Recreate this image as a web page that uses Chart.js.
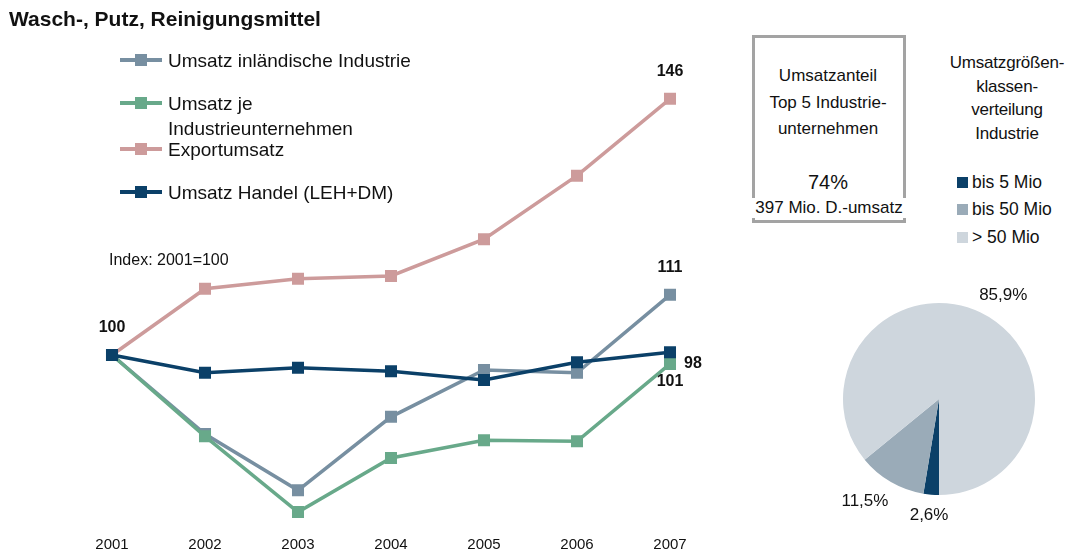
<!DOCTYPE html>
<html>
<head>
<meta charset="utf-8">
<script src="https://cdn.jsdelivr.net/npm/chart.js@4.4.1/dist/chart.umd.min.js"></script>
<style>
  body { margin: 0; width: 1068px; height: 554px; overflow: hidden; background: #fff;
         font-family: "Liberation Sans", Arial, sans-serif; color: #111; position: relative; }
  .abs { position: absolute; }
  #title { left: 9px; top: 7px; font-size: 21px; font-weight: bold; }
  .lg { position: absolute; left: 120px; font-size: 19px; line-height: 25px; }
  .lg .mk { position: absolute; left: 0; top: 10px; width: 42px; height: 4px; }
  .lg .mk i { position: absolute; left: 15px; top: -4px; width: 12px; height: 12px; }
  .lg span { position: absolute; left: 48px; top: 0; width: 250px; }
  #index { left: 109px; top: 251px; font-size: 16px; }
  #box { left: 752px; top: 35px; width: 148px; height: 182px; border: 3px solid #a3a3a3; }
  .bt { position: absolute; width: 160px; left: 748px; text-align: center; font-size: 17px; }
  #pieTitle { left: 945px; top: 51px; width: 124px; text-align: center; font-size: 17px; line-height: 23.5px; letter-spacing: -0.2px; }
  .pl { position: absolute; left: 957px; font-size: 17.5px; }
  .pl i { display: inline-block; width: 11px; height: 11px; margin-right: 4px; vertical-align: 0px; }
</style>
</head>
<body>
<canvas id="lineChart" class="abs" width="720" height="554" style="left:0;top:0"></canvas>
<canvas id="pieChart" class="abs" width="239" height="285" style="left:829px;top:269px"></canvas>

<div id="title" class="abs">Wasch-, Putz, Reinigungsmittel</div>
<div id="legend"></div>
<div id="index" class="abs">Index: 2001=100</div>

<div id="box" class="abs"></div>
<div class="bt" style="top:66px">Umsatzanteil</div>
<div class="bt" style="top:93px">Top 5 Industrie-</div>
<div class="bt" style="top:119px">unternehmen</div>
<div class="bt" style="top:171px;font-size:20px">74%</div>
<div class="bt" style="top:198px;left:750px;width:158px;background:#fff">397 Mio. D.-umsatz</div>

<div id="pieTitle" class="abs">Umsatzgrößen-<br>klassen-<br>verteilung<br>Industrie</div>
<div id="pieLegend"></div>

<script>
// Index values, 2001 = 100
const years = ['2001', '2002', '2003', '2004', '2005', '2006', '2007'];
const inlandIndustrie = [100, 85.8, 75.7, 88.9, 97.3, 96.8, 110.8];
const jeUnternehmen   = [100, 85.4, 71.8, 81.5, 84.7, 84.5, 98.4];
const exportUmsatz    = [100, 111.9, 113.7, 114.2, 120.8, 132.2, 146];
const handel          = [100, 96.8, 97.7, 97.1, 95.5, 98.7, 100.5];

const seriesNames  = ['Umsatz inländische Industrie', 'Umsatz je Industrieunternehmen', 'Exportumsatz', 'Umsatz Handel (LEH+DM)'];
const seriesColors = ['#778fa1', '#68a98a', '#cd9b9b', '#0b4068'];
const seriesData   = [inlandIndustrie, jeUnternehmen, exportUmsatz, handel];
const drawOrder    = [2, 1, 3, 0];

// labels shown next to points: [series, point, text, dx, dy]
const valueLabels = [
  [3, 0, '100', 0, -27],
  [2, 6, '146', 0, -27],
  [0, 6, '111', 0, -27],
  [1, 6, '98', 23, 0],
  [3, 6, '101', 0, 29]
];

const pieLabels = ['bis 5 Mio', 'bis 50 Mio', '> 50 Mio'];
const pieValues = [2.6, 11.5, 85.9];
const pieText   = ['2,6%', '11,5%', '85,9%'];
const pieColors = ['#0b4068', '#9aabb8', '#ced6dd'];

// legend
const legendTops = [48, 91, 137, 180];
let html = '';
seriesNames.forEach((n, i) => {
  html += '<div class="lg" style="top:' + legendTops[i] + 'px"><div class="mk" style="background:' + seriesColors[i] +
          '"><i style="background:' + seriesColors[i] + '"></i></div><span>' + n + '</span></div>';
});
document.getElementById('legend').innerHTML = html;

const pieLegendTops = [172, 199, 227];
let ph = '';
pieLabels.forEach((n, i) => {
  ph += '<div class="pl" style="top:' + pieLegendTops[i] + 'px"><i style="background:' + pieColors[i] + '"></i>' + n + '</div>';
});
document.getElementById('pieLegend').innerHTML = ph;

const valueLabelPlugin = {
  id: 'valueLabels',
  afterDatasetsDraw(chart) {
    const ctx = chart.ctx;
    ctx.save();
    ctx.font = 'bold 16px "Liberation Sans", Arial, sans-serif';
    ctx.fillStyle = '#111';
    ctx.textAlign = 'center';
    ctx.textBaseline = 'middle';
    valueLabels.forEach(([s, p, t, dx, dy]) => {
      const pt = chart.getDatasetMeta(s).data[p];
      ctx.fillText(t, pt.x + dx, pt.y + dy);
    });
    ctx.restore();
  }
};

new Chart(document.getElementById('lineChart'), {
  type: 'line',
  data: {
    labels: years,
    datasets: seriesData.map((d, i) => ({
      label: seriesNames[i],
      data: d,
      borderColor: seriesColors[i],
      backgroundColor: seriesColors[i],
      borderWidth: 3.5,
      pointStyle: 'rect',
      pointRadius: 8.5,
      pointBorderWidth: 0,
      pointBackgroundColor: seriesColors[i],
      tension: 0,
      fill: false,
      order: drawOrder[i]
    }))
  },
  options: {
    responsive: false,
    animation: false,
    layout: { padding: { left: 112, right: 50, top: 32, bottom: 0 } },
    plugins: { legend: { display: false }, tooltip: { enabled: false } },
    scales: {
      x: {
        offset: false,
        grid: { display: false, drawTicks: false },
        border: { display: false },
        ticks: { color: '#111', font: { size: 15, family: '"Liberation Sans", Arial, sans-serif' }, padding: 0 }
      },
      y: { display: false, min: 67.5, max: 158 }
    }
  },
  plugins: [valueLabelPlugin]
});

const pieLabelPlugin = {
  id: 'pieLabels',
  afterDatasetsDraw(chart) {
    const ctx = chart.ctx;
    const nudge = [[0, -5], [-13, -3], [12, 6]];
    ctx.save();
    ctx.font = '17px "Liberation Sans", Arial, sans-serif';
    ctx.fillStyle = '#111';
    ctx.textAlign = 'center';
    ctx.textBaseline = 'middle';
    chart.getDatasetMeta(0).data.forEach((arc, i) => {
      const mid = (arc.startAngle + arc.endAngle) / 2;
      const r = arc.outerRadius * 1.27;
      ctx.fillText(pieText[i], arc.x + Math.cos(mid) * r + nudge[i][0], arc.y + Math.sin(mid) * r + nudge[i][1]);
    });
    ctx.restore();
  }
};

new Chart(document.getElementById('pieChart'), {
  type: 'pie',
  data: { labels: pieLabels, datasets: [{ data: pieValues, backgroundColor: pieColors, borderWidth: 0 }] },
  options: {
    responsive: false,
    animation: false,
    rotation: 180,
    layout: { padding: { left: 14, right: 33, top: 34, bottom: 59 } },
    plugins: { legend: { display: false }, tooltip: { enabled: false } }
  },
  plugins: [pieLabelPlugin]
});
</script>
</body>
</html>
